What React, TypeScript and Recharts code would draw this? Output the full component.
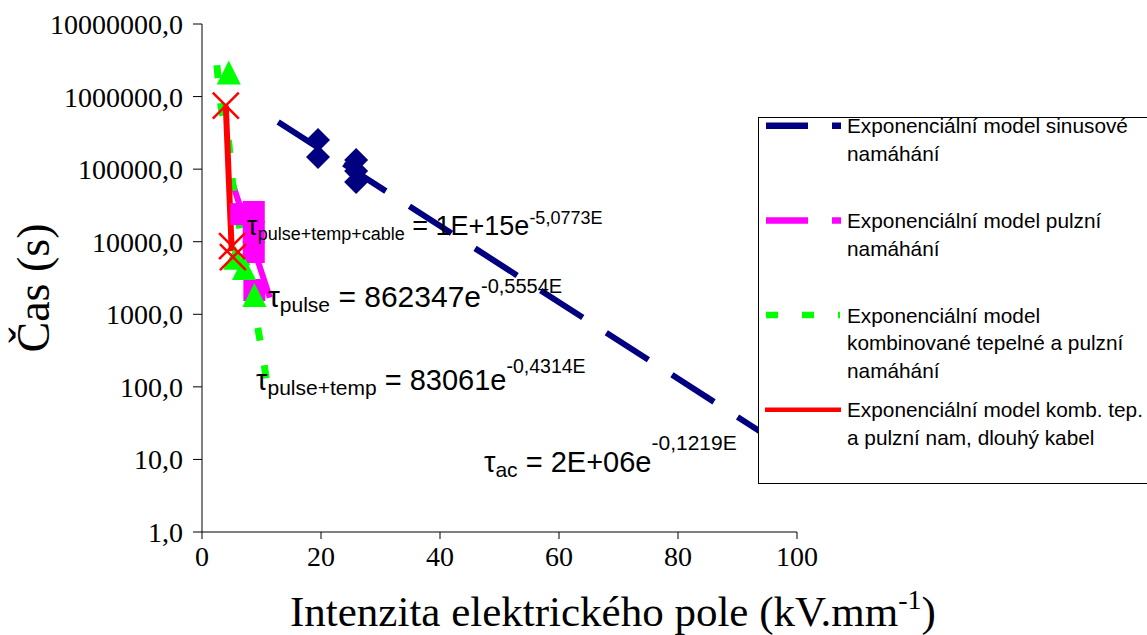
import React from 'react';
import { ComposedChart, Line, Scatter, XAxis, YAxis, Legend, ReferenceDot } from 'recharts';

const NAVY = '#000080';
const MAGENTA = '#FF00FF';
const GREEN = '#00FF00';
const RED = '#FF0000';
const SERIF = '"Liberation Serif", "Times New Roman", serif';
const SANS = '"Liberation Sans", Arial, sans-serif';

const xTicks = [0, 20, 40, 60, 80, 100];
const yTicks = [1, 10, 100, 1000, 10000, 100000, 1000000, 10000000];

// Exponenciální model sinusové namáhání
const sinusLine = [
  { x: 12.8, y: 447000 },
  { x: 95, y: 21 },
];
const sinusPoints = [
  { x: 19.5, y: 252000 },
  { x: 19.5, y: 147000 },
  { x: 25.9, y: 133700 },
  { x: 25.9, y: 94300 },
  { x: 25.9, y: 66500 },
];

// Exponenciální model pulzní namáhání
const pulseLine = [
  { x: 5.1, y: 65000 },
  { x: 11.4, y: 1700 },
];
const pulsePoints = [
  { x: 6.6, y: 24000 },
  { x: 8.7, y: 25700 },
  { x: 8.7, y: 13600 },
  { x: 8.7, y: 7200 },
  { x: 8.8, y: 2160 },
];

// Exponenciální model kombinované tepelné a pulzní namáhání
const combinedLine = [
  { x: 2.5, y: 2700000 },
  { x: 3.2, y: 718000 },
  { x: 4.5, y: 229000 },
  { x: 5.1, y: 68700 },
  { x: 6.2, y: 18200 },
  { x: 9.2, y: 783 },
  { x: 10.3, y: 242 },
  { x: 11.4, y: 62 },
];
const combinedPoints = [
  { x: 4.5, y: 2150000 },
  { x: 5.6, y: 6000 },
  { x: 7.06, y: 4340 },
  { x: 8.8, y: 1845 },
];

// Exponenciální model komb. tep. a pulzní nam, dlouhý kabel
const cableLine = [
  { x: 4.0, y: 750000 },
  { x: 5.0, y: 7400 },
];
const cablePoints = [
  { x: 4.0, y: 750000 },
  { x: 5.05, y: 8700 },
  { x: 5.2, y: 6150 },
];

const legendLines = [
  ['Exponenciální model sinusové', 'namáhání'],
  ['Exponenciální model pulzní', 'namáhání'],
  ['Exponenciální model', 'kombinované tepelné a pulzní', 'namáhání'],
  ['Exponenciální model komb. tep.', 'a pulzní nam, dlouhý kabel'],
];

const equations = [
  { x: 7.56, y: 12380, sub: 'pulse+temp+cable', main: ' = 1E+15e', sup: '-5,0773E' },
  { x: 11.09, y: 1260, sub: 'pulse', main: ' = 862347e', sup: '-0,5554E' },
  { x: 9.08, y: 90.5, sub: 'pulse+temp', main: ' = 83061e', sup: '-0,4314E' },
  { x: 47.39, y: 6.71, sub: 'ac', main: ' = 2E+06e', sup: '-0,1219E' },
];
// text styling for each equation: main size, sub size, sup size, sup shift
const eqStyle = [
  { main: 27, sub: 18, sup: 18, shift: -11 },
  { main: 30, sub: 21, sup: 20, shift: -14 },
  { main: 29, sub: 21, sup: 19.5, shift: -17 },
  { main: 29, sub: 21, sup: 21, shift: -22 },
];

const fmtY = (v: number) => v.toFixed(1).replace('.', ',');

const Diamond = (p: any) => (
  <polygon
    points={`${p.cx},${p.cy - 12} ${p.cx + 12},${p.cy} ${p.cx},${p.cy + 12} ${p.cx - 12},${p.cy}`}
    fill={NAVY}
  />
);
const Square = (p: any) => <rect x={p.cx - 11} y={p.cy - 11} width={22} height={22} fill={MAGENTA} />;
const Triangle = (p: any) => (
  <polygon
    points={`${p.cx},${p.cy - 12} ${p.cx + 12},${p.cy + 12} ${p.cx - 12},${p.cy + 12}`}
    fill={GREEN}
  />
);
const Cross = (p: any) => (
  <g stroke={RED} strokeWidth={2.5}>
    <line x1={p.cx - 13} y1={p.cy - 13} x2={p.cx + 13} y2={p.cy + 13} />
    <line x1={p.cx - 13} y1={p.cy + 13} x2={p.cx + 13} y2={p.cy - 13} />
  </g>
);

const makeEquation = (i: number) => (p: any) => {
  const eq = equations[i];
  const st = eqStyle[i];
  return (
    <text x={p.cx} y={p.cy} fontSize={st.main} fill="#000" style={{ whiteSpace: 'pre', fontFamily: SANS }}>
      <tspan>τ</tspan>
      <tspan fontSize={st.sub} dy={5}>{eq.sub}</tspan>
      <tspan dy={-5}>{eq.main}</tspan>
      <tspan fontSize={st.sup} dy={st.shift}>{eq.sup}</tspan>
    </text>
  );
};

const XTitle = (props: any) => {
  const vb = props.viewBox;
  return (
    <text x={vb.x + 88} y={vb.y + 94} fontSize={43} fill="#000" style={{ fontFamily: SERIF }}>
      Intenzita elektrického pole (kV.mm
      <tspan fontSize={28} dy={-17}>-1</tspan>
      <tspan dy={17}>)</tspan>
    </text>
  );
};

const YTitle = (props: any) => {
  const vb = props.viewBox;
  const x = vb.x + 49;
  const y = vb.y + 264;
  return (
    <text
      x={x}
      y={y}
      transform={`rotate(-90, ${x}, ${y})`}
      textAnchor="middle"
      fontSize={46}
      fill="#000"
      style={{ fontFamily: SERIF }}
    >
      Čas (s)
    </text>
  );
};

const LegendBox = () => {
  const step = 94.7;
  return (
    <svg width={389} height={368} style={{ display: 'block' }}>
      <rect x={0.5} y={0.5} width={430} height={366} fill="#fff" stroke="#000" strokeWidth={1} />
      {legendLines.map((lines, i) => {
        const sy = 8.7 + step * i;
        let sample;
        if (i === 0 || i === 1) {
          sample = (
            <line x1={8} x2={83} y1={sy} y2={sy} stroke={i === 0 ? NAVY : MAGENTA} strokeWidth={6.5} strokeDasharray="42 24" />
          );
        } else if (i === 2) {
          sample = <line x1={8} x2={82} y1={sy} y2={sy} stroke={GREEN} strokeWidth={6.5} strokeDasharray="12 24" />;
        } else {
          sample = <line x1={7} x2={83} y1={sy} y2={sy} stroke={RED} strokeWidth={4.5} />;
        }
        return (
          <g key={i}>
            {sample}
            {lines.map((t, j) => (
              <text key={j} x={89} y={sy + 7.6 + 27.5 * j} fontSize={20.8} fill="#000" style={{ fontFamily: SANS }}>
                {t}
              </text>
            ))}
          </g>
        );
      })}
    </svg>
  );
};

export default function App() {
  return (
    <div style={{ position: 'absolute', left: 0, top: 0, background: '#fff' }}>
      <ComposedChart width={1147} height={635} margin={{ top: 24, right: 350, bottom: 0, left: 0 }}>
        <XAxis
          type="number"
          dataKey="x"
          domain={[0, 100]}
          ticks={xTicks}
          interval={0}
          height={103}
          tickSize={7}
          tickMargin={7}
          stroke="#000"
          tick={{ fontFamily: SERIF, fontSize: 28, fill: '#000' }}
          tickLine={{ stroke: '#000' }}
          axisLine={{ stroke: '#000' }}
          label={XTitle}
        />
        <YAxis
          type="number"
          scale="log"
          domain={[1, 10000000]}
          allowDataOverflow
          ticks={yTicks}
          interval={0}
          width={202}
          tickSize={9}
          tickMargin={10}
          tickFormatter={fmtY}
          stroke="#000"
          tick={{ fontFamily: SERIF, fontSize: 28, fill: '#000' }}
          tickLine={{ stroke: '#000' }}
          axisLine={{ stroke: '#000' }}
          label={YTitle}
        />
        <Legend
          layout="horizontal"
          verticalAlign="middle"
          align="center"
          content={() => <LegendBox />}
          wrapperStyle={{ left: 758, top: 117, width: 389, height: 368 }}
        />
        <Line
          data={sinusLine}
          dataKey="y"
          name="Exponenciální model sinusové namáhání"
          type="linear"
          stroke={NAVY}
          strokeWidth={6}
          strokeDasharray="50 28"
          dot={false}
          activeDot={false}
          isAnimationActive={false}
        />
        <Scatter data={sinusPoints} dataKey="y" shape={Diamond} isAnimationActive={false} />
        <Line
          data={pulseLine}
          dataKey="y"
          name="Exponenciální model pulzní namáhání"
          type="linear"
          stroke={MAGENTA}
          strokeWidth={6}
          strokeDasharray="50 28"
          dot={false}
          activeDot={false}
          isAnimationActive={false}
        />
        <Scatter data={pulsePoints} dataKey="y" shape={Square} isAnimationActive={false} />
        <Line
          data={combinedLine}
          dataKey="y"
          name="Exponenciální model kombinované tepelné a pulzní namáhání"
          type="linear"
          stroke={GREEN}
          strokeWidth={7}
          strokeDasharray="13 25"
          dot={false}
          activeDot={false}
          isAnimationActive={false}
        />
        <Scatter data={combinedPoints} dataKey="y" shape={Triangle} isAnimationActive={false} />
        <Line
          data={cableLine}
          dataKey="y"
          name="Exponenciální model komb. tep. a pulzní nam, dlouhý kabel"
          type="linear"
          stroke={RED}
          strokeWidth={6}
          dot={false}
          activeDot={false}
          isAnimationActive={false}
        />
        <Scatter data={cablePoints} dataKey="y" shape={Cross} isAnimationActive={false} />
        {equations.map((eq, i) => (
          <ReferenceDot key={i} x={eq.x} y={eq.y} r={1} shape={makeEquation(i)} ifOverflow="visible" />
        ))}
      </ComposedChart>
    </div>
  );
}
